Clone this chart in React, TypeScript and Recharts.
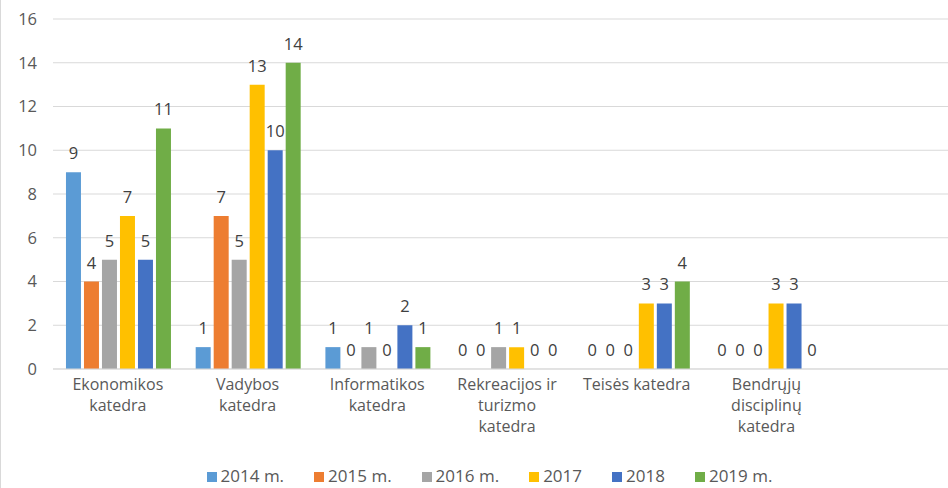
import { BarChart, Bar, XAxis, YAxis, CartesianGrid, Legend, LabelList } from 'recharts';

const categories = [
  'Ekonomikos\nkatedra',
  'Vadybos\nkatedra',
  'Informatikos\nkatedra',
  'Rekreacijos ir\nturizmo\nkatedra',
  'Teisės katedra',
  'Bendrųjų\ndisciplinų\nkatedra',
  '',
];

const y2014 = [9, 1, 1, 0, 0, 0, null];
const y2015 = [4, 7, 0, 0, 0, 0, null];
const y2016 = [5, 5, 1, 1, 0, 0, null];
const y2017 = [7, 13, 0, 1, 3, 3, null];
const y2018 = [5, 10, 2, 0, 3, 3, null];
const y2019 = [11, 14, 1, 0, 4, 0, null];

const yTicks = [0, 2, 4, 6, 8, 10, 12, 14, 16];

const series = [
  { key: 'y2014', name: '2014 m.', color: '#5B9BD5' },
  { key: 'y2015', name: '2015 m.', color: '#ED7D31' },
  { key: 'y2016', name: '2016 m.', color: '#A5A5A5' },
  { key: 'y2017', name: '2017', color: '#FFC000' },
  { key: 'y2018', name: '2018', color: '#4472C4' },
  { key: 'y2019', name: '2019 m.', color: '#70AD47' },
];

const data = categories.map((cat, i) => ({
  cat,
  y2014: y2014[i],
  y2015: y2015[i],
  y2016: y2016[i],
  y2017: y2017[i],
  y2018: y2018[i],
  y2019: y2019[i],
}));

const FONT = '"Open Sans", "Liberation Sans", sans-serif';

function CatTick(props: any) {
  const { x, y, payload } = props;
  const lines = String(payload.value).split('\n');
  return (
    <text x={x} y={y} textAnchor="middle" fill="#595959" fontSize={16} fontFamily={FONT}>
      {lines.map((l: string, i: number) => (
        <tspan key={i} x={x} dy={i === 0 ? 13 : 21}>
          {l}
        </tspan>
      ))}
    </text>
  );
}

function ValueLabel(props: any) {
  const { x, y, width, height, value } = props;
  if (value === null || value === undefined) return null;
  const top = Math.min(Number(y), Number(y) + Number(height || 0));
  return (
    <text
      x={Number(x) + Number(width) / 2}
      y={top - 13}
      textAnchor="middle"
      fill="#404040"
      fontSize={16.5}
      fontFamily={FONT}
    >
      {value}
    </text>
  );
}

export default function App() {
  return (
    <div
      style={{
        position: 'fixed',
        left: 0,
        top: 0,
        width: 947,
        height: 488,
        overflow: 'hidden',
        background: '#fff',
        borderLeft: '1px solid #d9d9d9',
      }}
    >
      <BarChart
        width={960}
        height={488}
        data={data}
        margin={{ top: 19, right: 0, bottom: 0, left: 7 }}
        barCategoryGap="10%"
        barGap={3}
      >
        <CartesianGrid vertical={false} stroke="#d9d9d9" />
        <XAxis
          dataKey="cat"
          tick={<CatTick />}
          tickLine={false}
          axisLine={{ stroke: '#d9d9d9' }}
          interval={0}
          height={89}
        />
        <YAxis
          domain={[0, 16]}
          ticks={yTicks}
          width={45}
          axisLine={false}
          tickLine={false}
          tick={{ fill: '#595959', fontSize: 16.5, fontFamily: FONT }}
          tickMargin={10}
        />
        <Legend
          height={30}
          iconType="square"
          iconSize={10}
          wrapperStyle={{ top: 464, left: 27, fontFamily: FONT, fontSize: 17, color: '#595959' }}
          formatter={(v: string) => <span style={{ color: '#595959', marginRight: 20 }}>{v}</span>}
        />
        {series.map((s) => (
          <Bar
            key={s.key}
            dataKey={s.key}
            name={s.name}
            fill={s.color}
            minPointSize={0.01}
            isAnimationActive={false}
          >
            <LabelList dataKey={s.key} content={<ValueLabel />} />
          </Bar>
        ))}
      </BarChart>
    </div>
  );
}
